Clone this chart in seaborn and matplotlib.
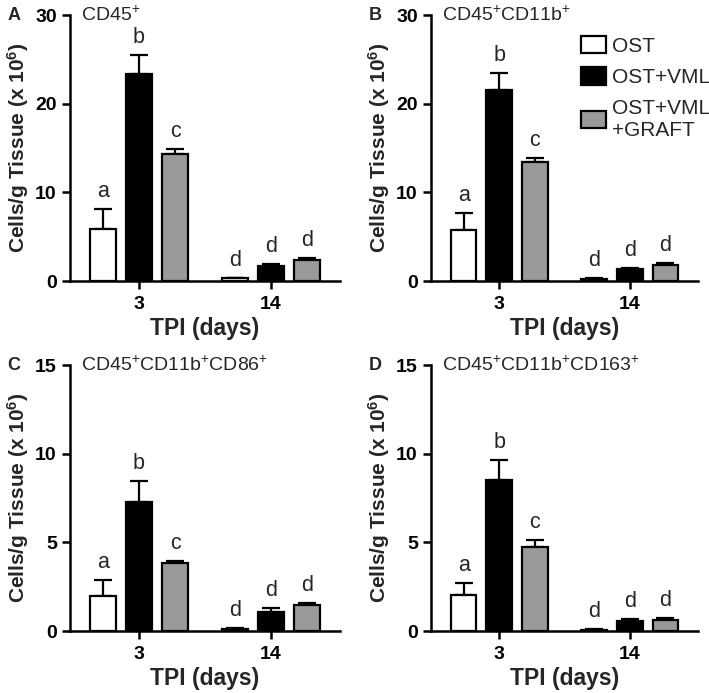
import numpy as np
import pandas as pd
import seaborn as sns
import matplotlib.pyplot as plt
from matplotlib.patches import Patch

days = ['3', '14']
groups = ['OST', 'OST+VML', 'OST+VML\n+GRAFT']
colors = ['white', 'black', '#9a9a9a']
letters_day3 = ['a', 'b', 'c']
letters_day14 = ['d', 'd', 'd']

# mean values per group, ordered [day 3, day 14]
a_ost, a_vml, a_graft = [5.9, 0.3], [23.3, 1.7], [14.3, 2.35]
a_ost_err, a_vml_err, a_graft_err = [2.2, 0.08], [2.2, 0.2], [0.6, 0.25]

b_ost, b_vml, b_graft = [5.7, 0.25], [21.5, 1.35], [13.4, 1.8]
b_ost_err, b_vml_err, b_graft_err = [2.0, 0.05], [2.0, 0.15], [0.5, 0.2]

c_ost, c_vml, c_graft = [1.98, 0.12], [7.25, 1.09], [3.82, 1.47]
c_ost_err, c_vml_err, c_graft_err = [0.9, 0.03], [1.2, 0.2], [0.15, 0.13]

d_ost, d_vml, d_graft = [2.03, 0.08], [8.5, 0.58], [4.73, 0.64]
d_ost_err, d_vml_err, d_graft_err = [0.7, 0.02], [1.12, 0.08], [0.39, 0.07]

panels = [
    ('A', r'CD45$^{+}$', [a_ost, a_vml, a_graft], [a_ost_err, a_vml_err, a_graft_err], 30, [0, 10, 20, 30]),
    ('B', r'CD45$^{+}$CD11b$^{+}$', [b_ost, b_vml, b_graft], [b_ost_err, b_vml_err, b_graft_err], 30, [0, 10, 20, 30]),
    ('C', r'CD45$^{+}$CD11b$^{+}$CD86$^{+}$', [c_ost, c_vml, c_graft], [c_ost_err, c_vml_err, c_graft_err], 15, [0, 5, 10, 15]),
    ('D', r'CD45$^{+}$CD11b$^{+}$CD163$^{+}$', [d_ost, d_vml, d_graft], [d_ost_err, d_vml_err, d_graft_err], 15, [0, 5, 10, 15]),
]

sns.set_theme(style='ticks')
plt.rcParams['font.family'] = ['Liberation Sans', 'DejaVu Sans']
plt.rcParams['mathtext.fontset'] = 'custom'
plt.rcParams['mathtext.rm'] = 'Liberation Sans'
plt.rcParams['mathtext.bf'] = 'Liberation Sans:bold'
plt.rcParams['mathtext.default'] = 'regular'

W, H = 709, 693
fig = plt.figure(figsize=(W / 100, H / 100), dpi=100)

# axes boxes in pixels: left, right, top, bottom
boxes = [(70, 340, 15, 281), (431, 698, 15, 281), (70, 340, 365, 631), (431, 698, 365, 631)]

for (letter, title, means, errs, ymax, yticks), (l, r, t, b) in zip(panels, boxes):
    ax = fig.add_axes([l / W, 1 - b / H, (r - l) / W, (b - t) / H])
    rows = []
    for g, m in zip(groups, means):
        for d, v in zip(days, m):
            rows.append({'day': d, 'group': g, 'value': v})
    df = pd.DataFrame(rows)
    sns.barplot(data=df, x='day', y='value', hue='group', hue_order=groups, order=days,
                palette=colors, edgecolor='black', linewidth=1.6, width=0.82, gap=0.28,
                errorbar=None, legend=False, ax=ax, zorder=2)

    bar_conts = list(ax.containers)
    for i, cont in enumerate(bar_conts):
        for j, bar in enumerate(cont.patches):
            xc = bar.get_x() + bar.get_width() / 2
            top = bar.get_height()
            e = errs[i][j]
            ax.errorbar(xc, top, yerr=[[0], [e]], fmt='none', ecolor='black',
                        elinewidth=1.6, capsize=6.5, capthick=1.6, zorder=1)
            lab = letters_day3[i] if j == 0 else letters_day14[i]
            ax.annotate(lab, (xc, top + e), xytext=(0, 5), textcoords='offset points',
                        ha='center', va='bottom', fontsize=15.5)

    ax.set_xlim(-0.523, 1.523)
    ax.set_ylim(0, ymax)
    ax.set_yticks(yticks)
    sns.despine(ax=ax)
    for s in ['left', 'bottom']:
        ax.spines[s].set_linewidth(1.8)
        ax.spines[s].set_color('black')
    ax.tick_params(axis='both', direction='out', length=6, width=1.8, colors='black',
                   labelsize=14)
    ax.tick_params(axis='x', pad=5)
    for tl in ax.get_xticklabels() + ax.get_yticklabels():
        tl.set_fontweight('bold')
    ax.set_xlabel('TPI (days)', fontsize=16.5, fontweight='bold', labelpad=3)
    ax.set_ylabel(r'Cells/g Tissue (x 10$^{6}$)', fontsize=15, fontweight='bold', labelpad=3)
    ax.text(0.04, 1.0, title, transform=ax.transAxes, fontsize=14, ha='left', va='center')
    ax.text(l / W - 0.088, 1 - t / H, letter, transform=fig.transFigure, fontsize=13,
            fontweight='bold', ha='left', va='center')

    if letter == 'B':
        handles = [Patch(facecolor=c, edgecolor='black', linewidth=1.6) for c in colors]
        fig.legend(handles, groups, loc='upper left', bbox_to_anchor=(581 / W, 1 - 36 / H),
                   bbox_transform=fig.transFigure, frameon=False, fontsize=15,
                   handlelength=1.2, handleheight=0.9, handletextpad=0.3,
                   labelspacing=0.55, borderpad=0, borderaxespad=0)

fig.savefig('out.png', dpi=100)
